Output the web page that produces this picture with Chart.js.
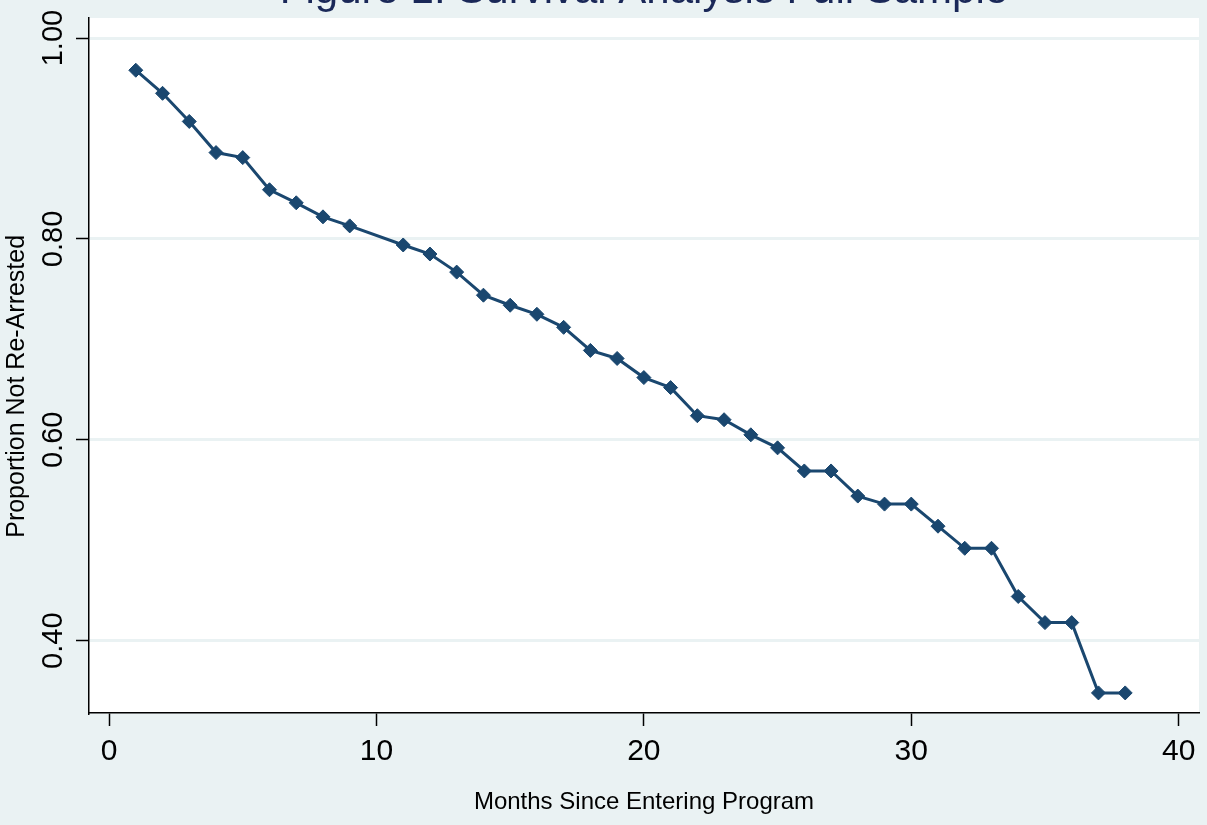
<!DOCTYPE html>
<html>
<head>
<meta charset="utf-8">
<title>Figure 1: Survival Analysis Full Sample</title>
<script src="https://cdn.jsdelivr.net/npm/chart.js@4.4.1/dist/chart.umd.min.js"></script>
<style>
  html, body { margin: 0; padding: 0; background: #eaf2f3; }
  #chart { display: block; }
</style>
</head>
<body>
<canvas id="chart" width="1207" height="825"></canvas>
<script>
// months since entering program (no observation at month 10)
const months = [1, 2, 3, 4, 5, 6, 7, 8, 9, 11, 12, 13, 14, 15, 16, 17, 18, 19, 20,
  21, 22, 23, 24, 25, 26, 27, 28, 29, 30, 31, 32, 33, 34, 35, 36, 37, 38];

// proportion not re-arrested
const proportion = [0.968, 0.945, 0.917, 0.886, 0.881, 0.849, 0.836, 0.822, 0.813,
  0.794, 0.785, 0.767, 0.744, 0.734, 0.725, 0.712, 0.689, 0.681, 0.662,
  0.652, 0.624, 0.620, 0.605, 0.592, 0.569, 0.569, 0.544, 0.536, 0.536,
  0.514, 0.492, 0.492, 0.444, 0.418, 0.418, 0.348, 0.348];

const xTicks = [0, 10, 20, 30, 40];
const yTicks = [0.40, 0.60, 0.80, 1.00];

const navy = '#1a476f';
const bg = '#eaf2f3';
const font = '"Liberation Sans", Arial, Helvetica, sans-serif';

const points = months.map((m, i) => ({ x: m, y: proportion[i] }));

// white plot region
const plotBackground = {
  id: 'plotBackground',
  beforeDraw(chart) {
    const { ctx, chartArea } = chart;
    ctx.save();
    ctx.fillStyle = '#ffffff';
    ctx.fillRect(chartArea.left, chartArea.top, chartArea.right - chartArea.left, chartArea.bottom - chartArea.top);
    ctx.restore();
  }
};

new Chart(document.getElementById('chart'), {
  type: 'line',
  data: {
    datasets: [{
      data: points,
      borderColor: navy,
      backgroundColor: navy,
      borderWidth: 3,
      tension: 0,
      pointStyle: 'rectRot',
      pointRadius: 7,
      pointBorderWidth: 1,
      pointBorderColor: navy,
      pointBackgroundColor: navy
    }]
  },
  options: {
    responsive: false,
    animation: false,
    devicePixelRatio: 1,
    layout: { padding: { right: 7, top: 0, bottom: 0, left: 0 } },
    plugins: {
      legend: { display: false },
      tooltip: { enabled: false },
      title: {
        display: true,
        text: 'Figure 1: Survival Analysis Full Sample',
        fullSize: false,
        color: '#1a2858',
        font: { family: font, size: 42, weight: 'normal', lineHeight: 1.2 },
        padding: { top: -34, bottom: 1.6 }
      }
    },
    scales: {
      x: {
        type: 'linear',
        min: -0.75,
        max: 40.76,
        afterBuildTicks: (scale) => { scale.ticks = xTicks.map(v => ({ value: v })); },
        afterFit: (scale) => { scale.height = 112; },
        ticks: {
          color: '#000',
          padding: 8,
          font: { family: font, size: 30 },
          maxRotation: 0
        },
        grid: {
          drawOnChartArea: false,
          drawTicks: true,
          tickLength: 13,
          tickColor: '#000',
          tickWidth: 1.5
        },
        border: { display: true, color: '#000', width: 1.5 },
        title: {
          display: true,
          text: 'Months Since Entering Program',
          color: '#000',
          font: { family: font, size: 24 },
          padding: { top: 0, bottom: 8 }
        }
      },
      y: {
        type: 'linear',
        min: 0.328,
        max: 1.02,
        afterBuildTicks: (scale) => { scale.ticks = yTicks.map(v => ({ value: v })); },
        afterFit: (scale) => { scale.width = 89; },
        ticks: {
          color: '#000',
          padding: -6,
          minRotation: 90,
          maxRotation: 90,
          crossAlign: 'center',
          font: { family: font, size: 29 },
          callback: (v) => v.toFixed(2)
        },
        grid: {
          color: bg,
          lineWidth: 3,
          drawTicks: true,
          tickLength: 13,
          tickColor: '#000',
          tickWidth: 1.5
        },
        border: { display: true, color: '#000', width: 1.5 },
        title: {
          display: true,
          // trailing spaces nudge the centred label down, as in the original
          text: 'Proportion Not Re-Arrested      ',
          color: '#000',
          font: { family: font, size: 25 },
          padding: { top: 2, bottom: 0 }
        }
      }
    }
  },
  plugins: [plotBackground]
});
</script>
</body>
</html>
